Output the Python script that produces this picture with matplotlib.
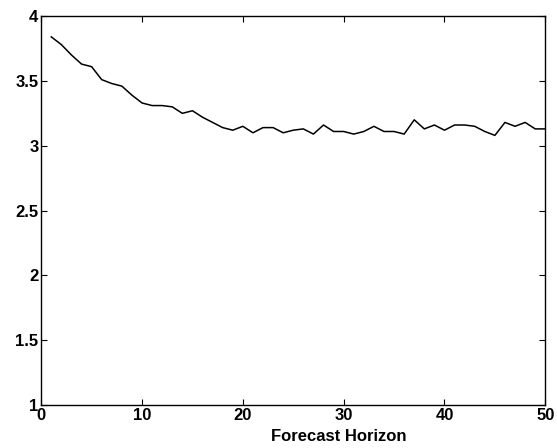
import matplotlib
matplotlib.use("Agg")
import matplotlib.pyplot as plt

horizon = list(range(1, 51))
values = [3.84, 3.78, 3.70, 3.63, 3.61, 3.51, 3.48, 3.46, 3.39, 3.33,
          3.31, 3.31, 3.30, 3.25, 3.27, 3.22, 3.18, 3.14, 3.12, 3.15,
          3.10, 3.14, 3.14, 3.10, 3.12, 3.13, 3.09, 3.16, 3.11, 3.11,
          3.09, 3.11, 3.15, 3.11, 3.11, 3.09, 3.20, 3.13, 3.16, 3.12,
          3.16, 3.16, 3.15, 3.11, 3.08, 3.18, 3.15, 3.18, 3.13, 3.13]
xticks = [0, 10, 20, 30, 40, 50]
yticks = [1, 1.5, 2, 2.5, 3, 3.5, 4]
ytick_labels = ["1", "1.5", "2", "2.5", "3", "3.5", "4"]

plt.rcParams['font.family'] = ['Liberation Sans', 'DejaVu Sans']

fig = plt.figure(figsize=(5.57, 4.48), dpi=100)
ax = fig.add_axes([0.074, 0.096, 0.905, 0.868])

ax.plot(horizon, values, color='black', linewidth=1.1)

ax.set_xlim(0, 50)
ax.set_ylim(1, 4)
ax.set_xticks(xticks)
ax.set_xticklabels([str(t) for t in xticks], fontsize=12, fontweight='bold')
ax.set_yticks(yticks)
ax.set_yticklabels(ytick_labels, fontsize=12, fontweight='bold')
ax.tick_params(direction='in', length=4, width=0.8, top=True, right=True, pad=2)
ax.set_xlabel("Forecast Horizon", fontsize=12, fontweight='bold')
# label sits off-centre, a bit right and low, like the scanned original
ax.xaxis.set_label_coords(0.59, -0.063)
for s in ax.spines.values():
    s.set_linewidth(1.0)

fig.savefig("out.png", dpi=100)
